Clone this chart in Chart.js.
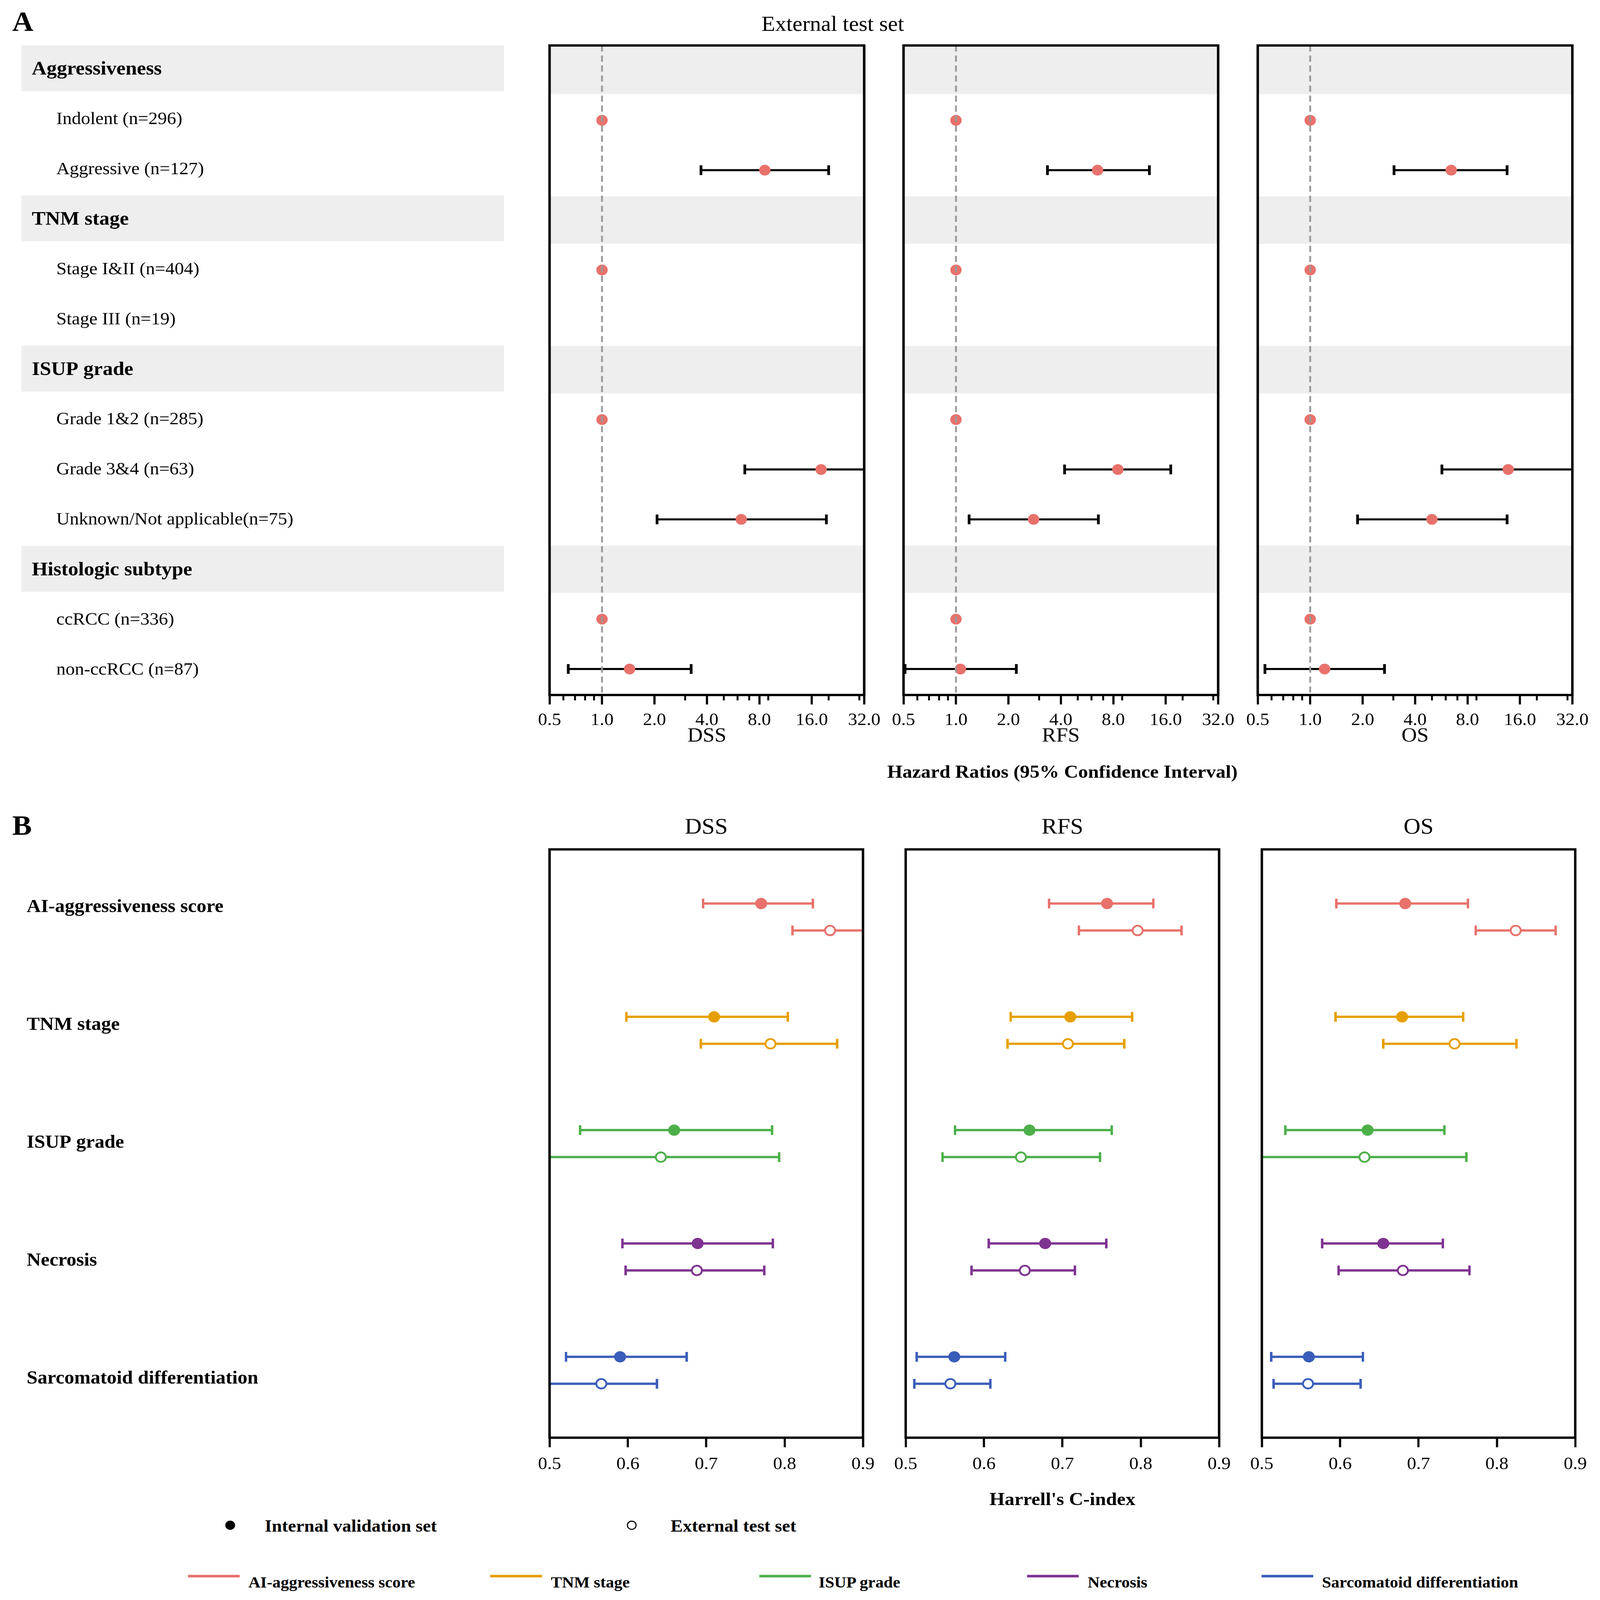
<!DOCTYPE html>
<html><head><meta charset="utf-8">
<script src="https://cdn.jsdelivr.net/npm/chart.js@4.4.1/dist/chart.umd.min.js"></script>
<style>
html{overflow:hidden;}
html,body{margin:0;padding:0;background:#fff;}
body{width:5881px;height:6230px;position:relative;overflow:hidden;font-family:"Liberation Serif","Times New Roman",serif;color:#000;transform-origin:0 0;}
.t{position:absolute;white-space:nowrap;line-height:1;}
.b{font-weight:bold;}
.dot{position:absolute;border-radius:50%;box-sizing:border-box;}
.ln{position:absolute;height:10px;}
</style></head><body>
<div class="t b" style="left:45px;top:30px;font-size:108px;">A</div>
<div class="t" style="left:3061px;top:52px;font-size:82px;transform:translateX(-50%);">External test set</div>
<div class="t b" style="left:3905px;top:2968px;font-size:72px;transform:translateX(-50%);">Hazard Ratios (95% Confidence Interval)</div>
<div class="t b" style="left:45px;top:3161px;font-size:108px;">B</div>
<div class="t b" style="left:3905px;top:5800px;font-size:72px;transform:translateX(-50%);">Harrell's C-index</div>

<div class="dot" style="left:828px;top:5921px;width:36px;height:36px;background:#000;"></div>
<div class="t b" style="left:973px;top:5908px;font-size:67px;">Internal validation set</div>
<div class="dot" style="left:2304px;top:5921px;width:36px;height:36px;background:#fff;border:4px solid #000;"></div>
<div class="t b" style="left:2465px;top:5908px;font-size:67px;">External test set</div>

<div class="ln" style="left:691px;top:6132px;width:190px;background:#E8716B;"></div>
<div class="t b" style="left:913px;top:6131px;font-size:61px;">AI-aggressiveness score</div>
<div class="ln" style="left:1802px;top:6132px;width:190px;background:#E69F00;"></div>
<div class="t b" style="left:2025px;top:6131px;font-size:61px;">TNM stage</div>
<div class="ln" style="left:2791px;top:6132px;width:190px;background:#4DAF4A;"></div>
<div class="t b" style="left:3009px;top:6131px;font-size:61px;">ISUP grade</div>
<div class="ln" style="left:3775px;top:6132px;width:190px;background:#7E3391;"></div>
<div class="t b" style="left:3998px;top:6131px;font-size:61px;">Necrosis</div>
<div class="ln" style="left:4637px;top:6132px;width:190px;background:#3A5DB9;"></div>
<div class="t b" style="left:4859px;top:6131px;font-size:61px;">Sarcomatoid differentiation</div>

<script>
// ---------------- DATA ----------------
const rowLabels = ["Aggressiveness","Indolent (n=296)","Aggressive (n=127)","TNM stage","Stage I&II (n=404)","Stage III (n=19)","ISUP grade","Grade 1&2 (n=285)","Grade 3&4 (n=63)","Unknown/Not applicable(n=75)","Histologic subtype","ccRCC (n=336)","non-ccRCC (n=87)"];
const headerRows = [0,3,6,10];
const endpointsA = ["DSS","RFS","OS"];
const dssHR = [null,1,8.6,null,1,null,null,1,18.1,6.3,null,1,1.44];
const dssLo = [null,null,3.7,null,null,null,null,null,6.6,2.07,null,null,0.64];
const dssHi = [null,null,20.0,null,null,null,null,null,40,19.4,null,null,3.25];
const rfsHR = [null,1,6.5,null,1,null,null,1,8.5,2.79,null,1,1.06];
const rfsLo = [null,null,3.35,null,null,null,null,null,4.2,1.19,null,null,0.51];
const rfsHi = [null,null,12.9,null,null,null,null,null,17.1,6.57,null,null,2.22];
const osHR = [null,1,6.45,null,1,null,null,1,13.7,5.0,null,1,1.21];
const osLo = [null,null,3.03,null,null,null,null,null,5.7,1.87,null,null,0.55];
const osHi = [null,null,13.5,null,null,null,null,null,35,13.5,null,null,2.67];
const hrTicks = [0.5,1,2,4,8,16,32];
const hrMinorTicks = [0.6,0.7,0.8,0.9,3,5,6,7,9,20,30];

const models = ["AI-aggressiveness score","TNM stage","ISUP grade","Necrosis","Sarcomatoid differentiation"];
const modelColors = ["#E8716B","#E69F00","#4DAF4A","#7E3391","#3A5DB9"];
const endpointsB = ["DSS","RFS","OS"];
const dssIntC  = [0.770,0.710,0.659,0.689,0.590];
const dssIntLo = [0.696,0.598,0.539,0.593,0.521];
const dssIntHi = [0.836,0.804,0.784,0.785,0.675];
const dssExtC  = [0.858,0.782,0.642,0.688,0.566];
const dssExtLo = [0.810,0.693,0.49,0.597,0.49];
const dssExtHi = [0.93,0.867,0.793,0.774,0.637];
const rfsIntC  = [0.757,0.710,0.658,0.678,0.562];
const rfsIntLo = [0.683,0.634,0.563,0.606,0.514];
const rfsIntHi = [0.816,0.789,0.763,0.756,0.627];
const rfsExtC  = [0.796,0.707,0.647,0.652,0.557];
const rfsExtLo = [0.721,0.630,0.547,0.584,0.511];
const rfsExtHi = [0.852,0.779,0.748,0.716,0.608];
const osIntC   = [0.683,0.679,0.635,0.655,0.560];
const osIntLo  = [0.595,0.594,0.530,0.577,0.512];
const osIntHi  = [0.763,0.757,0.733,0.731,0.629];
const osExtC   = [0.824,0.746,0.631,0.680,0.559];
const osExtLo  = [0.773,0.655,0.49,0.598,0.515];
const osExtHi  = [0.875,0.825,0.761,0.765,0.626];
const cTicks = [0.5,0.6,0.7,0.8,0.9];

// ---------------- LAYOUT CONSTANTS ----------------
const FONT = "'Liberation Serif','Times New Roman',serif";
Chart.defaults.font.family = FONT;
Chart.defaults.color = '#000';
const A_YMIN = -0.5, A_YMAX = 12.52;
const B_YMIN = -0.478, B_YMAX = 4.714;
const EXT_OFFSET = 0.238;
const RED = '#E8716B';
const A_LEFTS = [2020, 3321, 4623], A_WIDTH = 1167;
const B_LEFTS = [2020, 3329, 4638], B_WIDTH = 1152;

function addCanvas(left, top, w, h) {
  const c = document.createElement('canvas');
  c.width = w; c.height = h;
  c.style.cssText = `position:absolute;left:${left}px;top:${top}px;width:${w}px;height:${h}px;`;
  document.body.appendChild(c);
  return c;
}

const framePlugin = {
  id: 'frame',
  afterDraw(chart) {
    const {ctx, chartArea: a} = chart;
    ctx.save();
    ctx.lineWidth = 9; ctx.strokeStyle = '#000';
    ctx.strokeRect(a.left, a.top, a.right - a.left, a.bottom - a.top);
    ctx.restore();
  }
};
const minorTickPlugin = {
  id: 'minorTicks',
  afterDraw(chart) {
    const {ctx, chartArea: a} = chart;
    const s = chart.scales.x;
    ctx.save();
    ctx.lineWidth = 7; ctx.strokeStyle = '#000';
    hrMinorTicks.forEach(v => {
      const px = s.getPixelForValue(Math.log2(v));
      ctx.beginPath(); ctx.moveTo(px, a.bottom); ctx.lineTo(px, a.bottom + 21); ctx.stroke();
    });
    ctx.restore();
  }
};

const baseOpts = {responsive: false, animation: false, events: [], devicePixelRatio: 1};

function makeHR(left, title, HR, LO, HI) {
  const padL = 80, padR = 70;
  const c = addCanvas(left - padL, 148, A_WIDTH + padL + padR, 2765);
  const pts = [], caps = [], lines = [];
  HR.forEach((v, i) => { if (v != null) pts.push({x: Math.log2(v), y: i}); });
  LO.forEach((lo, i) => {
    if (lo != null) {
      const a = {x: Math.log2(lo), y: i}, b = {x: Math.log2(HI[i]), y: i};
      caps.push(a, b);
      lines.push({type: 'line', data: [a, b], borderColor: '#000', borderWidth: 8, pointRadius: 0, order: 3, clip: 0});
    }
  });
  const datasets = [
    {type: 'line', data: [{x: 0, y: A_YMIN}, {x: 0, y: A_YMAX}], borderColor: '#9A9A9A', borderWidth: 7, borderDash: [24, 15], pointRadius: 0, order: 0, clip: 0},
    {type: 'scatter', data: pts, pointRadius: 21, pointBackgroundColor: RED, pointBorderWidth: 0, order: 1},
    {type: 'scatter', data: caps, pointStyle: 'line', pointRotation: 90, pointRadius: 19, pointBorderColor: '#000', pointBorderWidth: 10, order: 2, clip: 0},
    ...lines,
    {type: 'bar', indexAxis: 'y', data: headerRows.map(r => ({x: [-1, 5], y: r})), backgroundColor: '#EEEEEE', borderWidth: 0, barThickness: 184, order: 9, clip: 0}
  ];
  new Chart(c, {
    type: 'scatter',
    data: {datasets},
    options: Object.assign({}, baseOpts, {
      layout: {padding: {left: padL, right: padR, top: 20, bottom: 0}},
      plugins: {legend: {display: false}, tooltip: {enabled: false}},
      scales: {
        x: {
          type: 'linear', min: -1, max: 5, offset: false,
          afterBuildTicks: s => { s.ticks = hrTicks.map(v => ({value: Math.log2(v)})); },
          afterFit: s => { s.height = 207; },
          ticks: {callback: v => Math.pow(2, v).toFixed(1), font: {size: 68}, color: '#000', padding: 21, maxRotation: 0, minRotation: 0, autoSkip: false},
          grid: {drawOnChartArea: false, drawTicks: true, tickLength: 37, tickWidth: 8, tickColor: '#000', offset: false},
          border: {display: false},
          title: {display: true, text: title, font: {size: 78}, color: '#000', padding: 0}
        },
        y: {type: 'linear', display: false, min: A_YMIN, max: A_YMAX, reverse: true, offset: false, grid: {offset: false}}
      }
    }),
    plugins: [framePlugin, minorTickPlugin]
  });
}

function makeC(left, title, iC, iLo, iHi, eC, eLo, eHi) {
  const padL = 80, padR = 70;
  const c = addCanvas(left - padL, 3162, B_WIDTH + padL + padR, 2586);
  const datasets = [];
  const capsData = [], capsCol = [];
  models.forEach((m, g) => {
    const yi = g, ye = g + EXT_OFFSET, col = modelColors[g];
    datasets.push({type: 'line', data: [{x: iLo[g], y: yi}, {x: iHi[g], y: yi}], borderColor: col, borderWidth: 9, pointRadius: 0, order: 3, clip: 0});
    datasets.push({type: 'line', data: [{x: eLo[g], y: ye}, {x: eHi[g], y: ye}], borderColor: col, borderWidth: 9, pointRadius: 0, order: 3, clip: 0});
    capsData.push({x: iLo[g], y: yi}, {x: iHi[g], y: yi}, {x: eLo[g], y: ye}, {x: eHi[g], y: ye});
    capsCol.push(col, col, col, col);
  });
  datasets.push({type: 'scatter', data: capsData, pointStyle: 'line', pointRotation: 90, pointRadius: 19, pointBorderColor: capsCol, pointBorderWidth: 9, order: 2, clip: 0});
  datasets.push({type: 'scatter', data: iC.map((v, g) => ({x: v, y: g})), pointRadius: 22, pointBackgroundColor: modelColors, pointBorderWidth: 0, order: 1});
  datasets.push({type: 'scatter', data: eC.map((v, g) => ({x: v, y: g + EXT_OFFSET})), pointRadius: 18.5, pointBackgroundColor: '#FFFFFF', pointBorderColor: modelColors, pointBorderWidth: 7, order: 0});
  new Chart(c, {
    type: 'scatter',
    data: {datasets},
    options: Object.assign({}, baseOpts, {
      layout: {padding: {left: padL, right: padR, top: 0, bottom: 0}},
      plugins: {
        legend: {display: false}, tooltip: {enabled: false},
        title: {display: true, text: title, font: {size: 86, weight: 'normal'}, color: '#000', padding: {top: 10, bottom: 32}}
      },
      scales: {
        x: {
          type: 'linear', min: 0.5, max: 0.9, offset: false,
          afterBuildTicks: s => { s.ticks = cTicks.map(v => ({value: v})); },
          afterFit: s => { s.height = 150; },
          ticks: {callback: v => Number(v).toFixed(1), font: {size: 68}, color: '#000', padding: 26, maxRotation: 0, minRotation: 0, autoSkip: false},
          grid: {drawOnChartArea: false, drawTicks: true, tickLength: 37, tickWidth: 8, tickColor: '#000', offset: false},
          border: {display: false}
        },
        y: {type: 'linear', display: false, min: B_YMIN, max: B_YMAX, reverse: true, offset: false}
      }
    }),
    plugins: [framePlugin]
  });
}

// ---- Panel A left labels ----
(function () {
  const c = addCanvas(0, 148, 1900, 2765);
  const rowText = {
    id: 'rowText',
    afterDatasetsDraw(chart) {
      const {ctx, chartArea: a} = chart;
      const ys = chart.scales.y;
      ctx.save(); ctx.fillStyle = '#000'; ctx.textBaseline = 'alphabetic'; ctx.textAlign = 'left';
      rowLabels.forEach((t, i) => {
        const hdr = headerRows.includes(i);
        const fs = hdr ? 75 : 68;
        ctx.font = (hdr ? 'bold ' : '') + fs + 'px ' + FONT;
        ctx.fillText(t, a.left + (hdr ? 38 : 128), ys.getPixelForValue(i) + 0.331 * fs);
      });
      ctx.restore();
    }
  };
  new Chart(c, {
    type: 'bar',
    data: {datasets: [{indexAxis: 'y', data: headerRows.map(r => ({x: [0, 1], y: r})), backgroundColor: '#EEEEEE', borderWidth: 0, barThickness: 178, clip: 0}]},
    options: Object.assign({}, baseOpts, {
      indexAxis: 'y',
      layout: {padding: {left: 79, right: 48, top: 20, bottom: 207}},
      plugins: {legend: {display: false}, tooltip: {enabled: false}},
      scales: {
        x: {type: 'linear', display: false, min: 0, max: 1, offset: false},
        y: {type: 'linear', display: false, min: A_YMIN, max: A_YMAX, reverse: true, offset: false, grid: {offset: false}}
      }
    }),
    plugins: [rowText]
  });
})();

// ---- Panel B left labels ----
(function () {
  const c = addCanvas(0, 3162, 1900, 2586);
  const modelText = {
    id: 'modelText',
    afterDraw(chart) {
      const {ctx, chartArea: a} = chart;
      const ys = chart.scales.y;
      ctx.save(); ctx.fillStyle = '#000'; ctx.textBaseline = 'alphabetic'; ctx.textAlign = 'left';
      ctx.font = 'bold 72px ' + FONT;
      models.forEach((t, k) => ctx.fillText(t, a.left, ys.getPixelForValue(k) + 0.331 * 72));
      ctx.restore();
    }
  };
  new Chart(c, {
    type: 'scatter',
    data: {datasets: [{data: []}]},
    options: Object.assign({}, baseOpts, {
      layout: {padding: {left: 98, right: 0, top: 146, bottom: 150}},
      plugins: {legend: {display: false}, tooltip: {enabled: false}},
      scales: {
        x: {type: 'linear', display: false, min: 0, max: 1},
        y: {type: 'linear', display: false, min: -0.477, max: 4.512, reverse: true}
      }
    }),
    plugins: [modelText]
  });
})();

makeHR(A_LEFTS[0], endpointsA[0], dssHR, dssLo, dssHi);
makeHR(A_LEFTS[1], endpointsA[1], rfsHR, rfsLo, rfsHi);
makeHR(A_LEFTS[2], endpointsA[2], osHR, osLo, osHi);

makeC(B_LEFTS[0], endpointsB[0], dssIntC, dssIntLo, dssIntHi, dssExtC, dssExtLo, dssExtHi);
makeC(B_LEFTS[1], endpointsB[1], rfsIntC, rfsIntLo, rfsIntHi, rfsExtC, rfsExtLo, rfsExtHi);
makeC(B_LEFTS[2], endpointsB[2], osIntC, osIntLo, osIntHi, osExtC, osExtLo, osExtHi);

// fit the 5881x6230 figure into the actual window if it differs
const sx = window.innerWidth / 5881, sy = window.innerHeight / 6230;
if (Math.abs(sx - 1) > 0.002 || Math.abs(sy - 1) > 0.002) {
  document.body.style.transform = `scale(${sx},${sy})`;
}
</script>
</body></html>
